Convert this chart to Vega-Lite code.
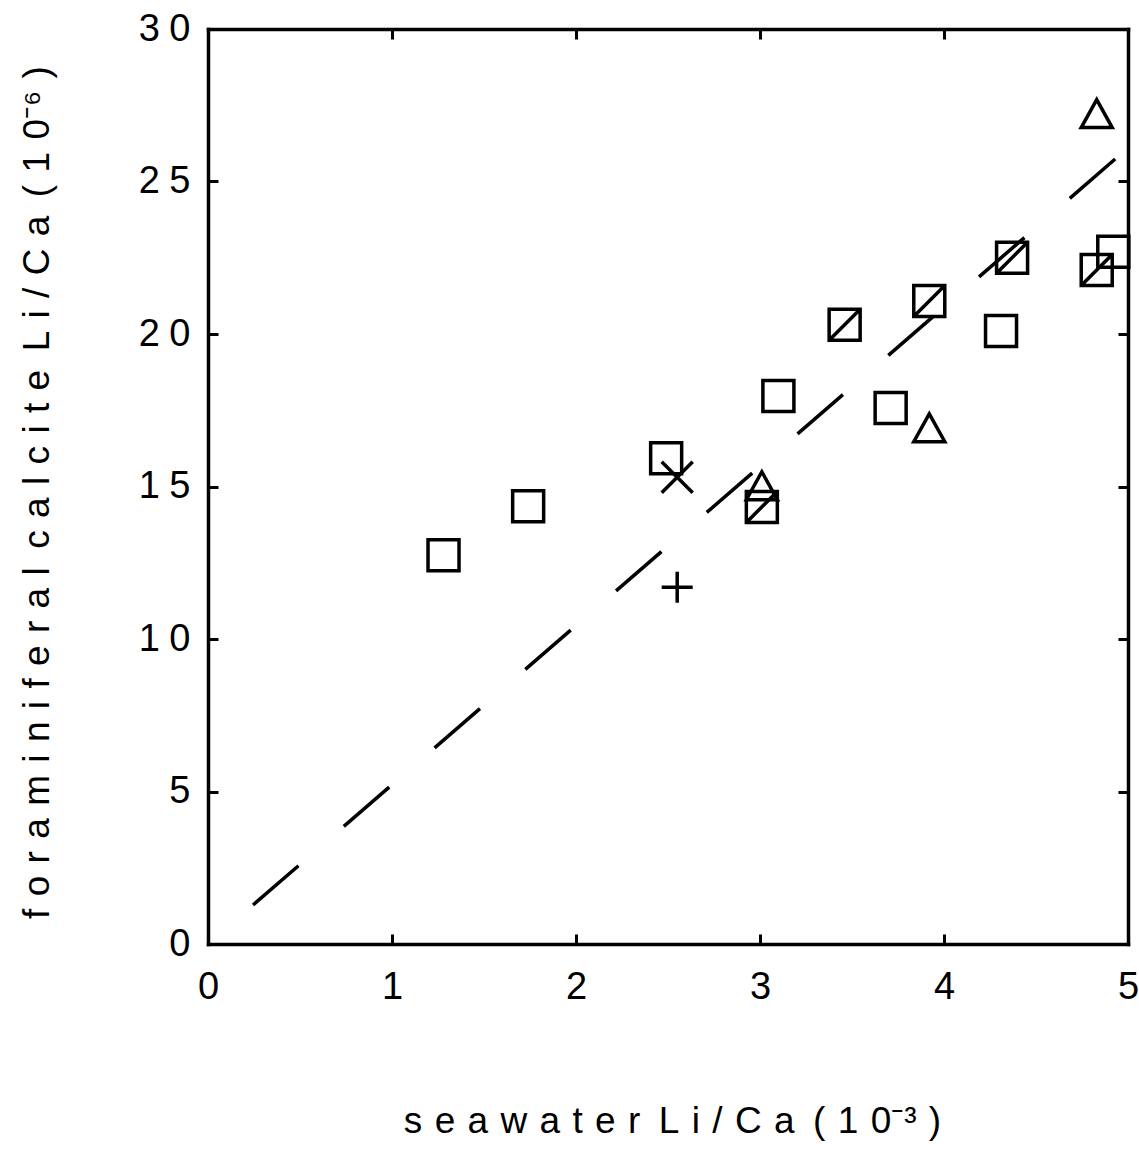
{
  "$schema": "https://vega.github.io/schema/vega-lite/v6.json",
  "width": 920,
  "height": 915,
  "autosize": "none",
  "padding": {"left": 208, "top": 29, "right": 11, "bottom": 209},
  "background": "white",
  "datasets": {
    "pts": [
      {"x": 1.28, "y": 12.75, "kind": "open"},
      {"x": 1.74, "y": 14.35, "kind": "open"},
      {"x": 2.49, "y": 15.93, "kind": "open"},
      {"x": 3.10, "y": 17.97, "kind": "open"},
      {"x": 3.71, "y": 17.57, "kind": "open"},
      {"x": 4.31, "y": 20.1, "kind": "open"},
      {"x": 4.92, "y": 22.7, "kind": "open"},
      {"x": 3.01, "y": 14.33, "kind": "hatched"},
      {"x": 3.46, "y": 20.3, "kind": "hatched"},
      {"x": 3.92, "y": 21.08, "kind": "hatched"},
      {"x": 4.37, "y": 22.5, "kind": "hatched"},
      {"x": 4.83, "y": 22.1, "kind": "hatched"},
      {"x": 3.01, "y": 15.0, "kind": "triangle"},
      {"x": 3.92, "y": 16.9, "kind": "triangle"},
      {"x": 4.83, "y": 27.2, "kind": "triangle"},
      {"x": 2.55, "y": 15.3, "kind": "x"},
      {"x": 2.55, "y": 11.7, "kind": "plus"}
    ],
    "fit": [
      {"x": 0.245, "y": 1.28},
      {"x": 5.0, "y": 26.1}
    ]
  },
  "layer": [
    {
      "data": {"name": "pts"},
      "mark": {"type": "point", "filled": false, "stroke": "black", "strokeWidth": 3.5, "size": 961, "opacity": 1},
      "encoding": {
        "x": {
          "field": "x", "type": "quantitative",
          "scale": {"domain": [0, 5], "nice": false, "zero": false},
          "axis": {
            "orient": "bottom",
            "values": [0, 1, 2, 3, 4, 5],
            "labelPadding": 34,
            "labelFlush": false,
            "title": "s\u2004e\u2004a\u2004w\u2004a\u2004t\u2004e\u2004r\u2002L\u2004i\u2004/\u2004C\u2004a\u2002(\u20041\u20040\u207b\u00b3\u2004)",
            "titleX": 464,
            "titleY": 188,
            "titleBaseline": "alphabetic",
            "titleAnchor": "middle",
            "titleAlign": "center"
          }
        },
        "y": {
          "field": "y", "type": "quantitative",
          "scale": {"domain": [0, 30], "nice": false, "zero": false},
          "axis": {
            "orient": "left",
            "values": [0, 5, 10, 15, 20, 25, 30],
            "labelPadding": 28,
            "labelFlush": false,
            "labelExpr": "length(datum.label) > 1 ? substring(datum.label, 0, 1) + '\u2005' + substring(datum.label, 1) : datum.label",
            "title": "f\u2004o\u2004r\u2004a\u2004m\u2004i\u2004n\u2004i\u2004f\u2004e\u2004r\u2004a\u2004l\u2002c\u2004a\u2004l\u2004c\u2004i\u2004t\u2004e\u2002L\u2004i\u2004/\u2004C\u2004a\u2002(\u20041\u20040\u207b\u2076\u2004)",
            "titleX": -160,
            "titleY": 463,
            "titleAngle": -90,
            "titleBaseline": "alphabetic",
            "titleAlign": "center",
            "titleAnchor": "middle"
          }
        },
        "shape": {
          "field": "kind", "type": "nominal",
          "scale": {
            "domain": ["open", "hatched", "triangle", "x", "plus"],
            "range": [
              "M-1,-1L1,-1L1,1L-1,1Z",
              "M-1,-1L1,-1L1,1L-1,1ZM-1,1L1,-1",
              "M0,-0.95L1,0.85L-1,0.85Z",
              "M-1,-1L1,1M-1,1L1,-1",
              "M-1,0L1,0M0,-1L0,1"
            ]
          },
          "legend": null
        }
      }
    },
    {
      "data": {"name": "fit"},
      "mark": {"type": "line", "color": "black", "strokeWidth": 3.5, "strokeDash": [60, 60]},
      "encoding": {
        "x": {
          "field": "x", "type": "quantitative",
          "scale": {"domain": [0, 5], "nice": false, "zero": false},
          "axis": {"orient": "top", "values": [0, 1, 2, 3, 4, 5], "labels": false, "title": null}
        },
        "y": {
          "field": "y", "type": "quantitative",
          "scale": {"domain": [0, 30], "nice": false, "zero": false},
          "axis": {"orient": "right", "values": [0, 5, 10, 15, 20, 25, 30], "labels": false, "title": null}
        }
      }
    }
  ],
  "resolve": {"axis": {"x": "independent", "y": "independent"}},
  "config": {
    "view": {"stroke": null},
    "font": "Liberation Sans",
    "axis": {
      "grid": false,
      "domain": true,
      "domainColor": "black",
      "domainWidth": 3.5,
      "domainCap": "square",
      "ticks": true,
      "tickColor": "black",
      "tickWidth": 3,
      "tickSize": -10,
      "labelFont": "Liberation Sans",
      "labelFontSize": 38,
      "labelColor": "black",
      "titleFont": "Liberation Sans",
      "titleFontSize": 37,
      "titleFontWeight": "normal",
      "titleColor": "black"
    }
  }
}
